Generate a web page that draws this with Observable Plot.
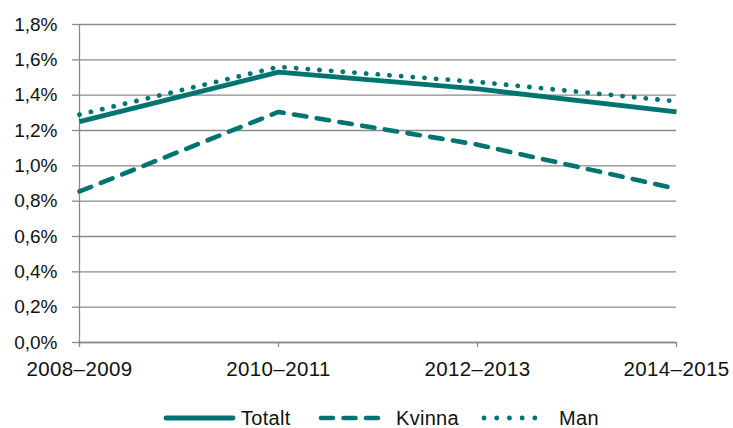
<!DOCTYPE html>
<html>
<head>
<meta charset="utf-8">
<script src="https://cdn.jsdelivr.net/npm/d3@7"></script>
<script src="https://cdn.jsdelivr.net/npm/@observablehq/plot@0.6"></script>
<style>
  html, body { margin: 0; padding: 0; background: #fff; }
  #wrap { position: relative; width: 733px; height: 428px; font-family: "Liberation Sans", Arial, sans-serif; }
  #legend { position: absolute; left: 0; top: 395px; width: 733px; height: 33px; }
  #legend svg { position: absolute; top: 0; left: 0; }
  .lab { position: absolute; top: 11px; font-size: 20px; line-height: 20px; color: #111; letter-spacing: 0.3px; }
</style>
</head>
<body>
<div id="wrap">
  <div id="chart"></div>
  <div id="legend"></div>
</div>
<script>
const periods = ["2008–2009", "2010–2011", "2012–2013", "2014–2015"];
const totalt = [1.25, 1.53, 1.435, 1.305];
const kvinna = [0.855, 1.305, 1.12, 0.87];
const man = [1.29, 1.56, 1.475, 1.365];
const yTicks = [0, 0.2, 0.4, 0.6, 0.8, 1.0, 1.2, 1.4, 1.6, 1.8];
const seriesNames = ["Totalt", "Kvinna", "Man"];

const teal = "#007471";
const gridColor = "#8a8a8a";
const dashes = { Totalt: null, Kvinna: "12.5,10.5", Man: "0.1,11.6" };
const widths = { Totalt: 4.8, Kvinna: 4.6, Man: 4.8 };

const rows = (vals) => periods.map((p, i) => ({ period: p, value: vals[i] }));
const series = { Totalt: rows(totalt), Kvinna: rows(kvinna), Man: rows(man) };
const fmt = d => d.toFixed(1).replace(".", ",") + "%";

const chart = Plot.plot({
  width: 733,
  height: 395,
  marginLeft: 78,
  marginRight: 57,
  marginTop: 24,
  marginBottom: 53,
  style: { fontFamily: "Liberation Sans, Arial, sans-serif", fontSize: "19px", color: "#111", background: "#fff" },
  x: { type: "point", domain: periods, padding: 0, label: null },
  y: { domain: [0, 1.8], label: null },
  marks: [
    Plot.gridY(yTicks, { stroke: gridColor, strokeOpacity: 1, strokeWidth: 1.3 }),
    Plot.axisY(yTicks, { tickFormat: fmt, tickSize: 6, tickPadding: 15, stroke: gridColor, strokeWidth: 1.3, fontSize: 19, label: null }),
    Plot.axisX({ tickSize: 5, tickPadding: 14, stroke: gridColor, strokeWidth: 1.3, fontSize: 20.5, label: null }),
    Plot.ruleX([periods[0]], { stroke: gridColor, strokeWidth: 1.3 }),
    Plot.ruleY([0], { stroke: gridColor, strokeWidth: 1.3 }),
    Plot.line(series.Kvinna, { x: "period", y: "value", stroke: teal, strokeWidth: widths.Kvinna, strokeDasharray: dashes.Kvinna, strokeLinecap: "round" }),
    Plot.line(series.Man, { x: "period", y: "value", stroke: teal, strokeWidth: widths.Man, strokeDasharray: dashes.Man, strokeLinecap: "round" }),
    Plot.line(series.Totalt, { x: "period", y: "value", stroke: teal, strokeWidth: widths.Totalt, strokeLinecap: "butt" })
  ]
});
chart.querySelectorAll('g[aria-label="x-axis tick label"] text').forEach(t => t.style.letterSpacing = "0.4px");
document.getElementById("chart").appendChild(chart);

// Legend
const legendLayout = {
  Totalt: { x1: 166, x2: 233, text: 241 },
  Kvinna: { x1: 321, x2: 380, text: 396 },
  Man: { x1: 484, x2: 547, text: 559 }
};
const legend = document.getElementById("legend");
const ns = "http://www.w3.org/2000/svg";
const lsvg = document.createElementNS(ns, "svg");
lsvg.setAttribute("width", 733);
lsvg.setAttribute("height", 33);
legend.appendChild(lsvg);
for (const name of seriesNames) {
  const L = legendLayout[name];
  const line = document.createElementNS(ns, "line");
  line.setAttribute("x1", L.x1); line.setAttribute("x2", L.x2);
  line.setAttribute("y1", 23); line.setAttribute("y2", 23);
  line.setAttribute("stroke", teal);
  line.setAttribute("stroke-width", widths[name]);
  line.setAttribute("stroke-linecap", "round");
  if (dashes[name]) line.setAttribute("stroke-dasharray", name === "Man" ? "0.1,12.6" : "12,10.5");
  lsvg.appendChild(line);
  const label = document.createElement("div");
  label.className = "lab";
  label.style.left = L.text + "px";
  label.style.top = "13px";
  label.textContent = name;
  legend.appendChild(label);
}
</script>
</body>
</html>
